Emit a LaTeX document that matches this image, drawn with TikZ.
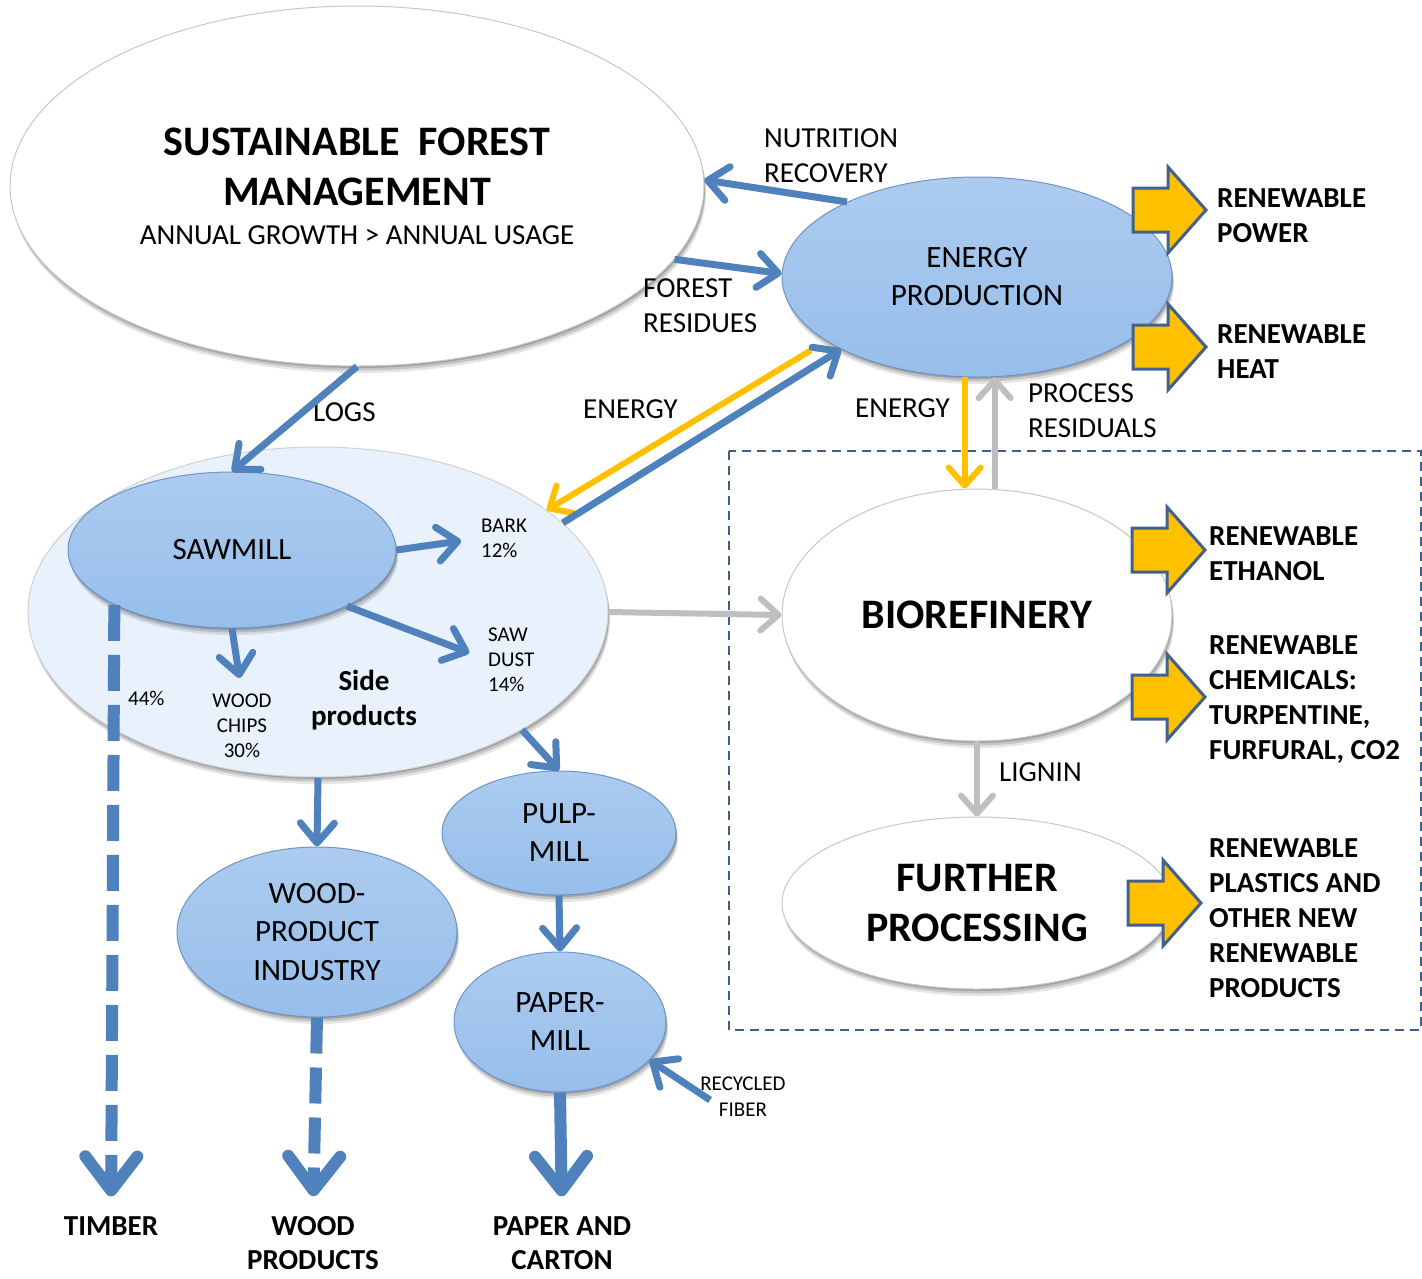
\documentclass[tikz,border=0pt]{standalone}
\usepackage{fontspec}
\setmainfont{Carlito}
\usetikzlibrary{shapes.geometric, arrows.meta, shadows}

\definecolor{millblue}{HTML}{97BEEB}
\definecolor{millrim}{HTML}{6F94C6}
\definecolor{flowblue}{HTML}{4F81BD}
\definecolor{flowgold}{HTML}{FFC000}
\definecolor{flowgray}{HTML}{BFBFBF}
\definecolor{sidefill}{HTML}{E8F1FC}
\definecolor{frameblue}{HTML}{3E5F8A}
\definecolor{outedge}{HTML}{41618F}

\newcommand{\fs}[2]{\fontsize{#1}{#2}\selectfont}

\tikzset{
  soft shadow/.style={
    drop shadow={shadow xshift=2pt, shadow yshift=-7pt, opacity=.10, fill=black},
    drop shadow={shadow xshift=1.5pt, shadow yshift=-4.5pt, opacity=.14, fill=black},
    drop shadow={shadow xshift=1pt, shadow yshift=-2pt, opacity=.18, fill=black}},
  outarrow/.pic={
    \draw[line width=3pt, draw=outedge, fill=flowgold]
      (0,-22) -- (35,-22) -- (35,-43) -- (73,0) -- (35,43) -- (35,22) -- (0,22) -- cycle;
  },
}

\begin{document}
\begin{tikzpicture}[
    x=1pt, y=-1pt,
    every node/.style={inner sep=0pt},
    whiteblob/.style={ellipse, fill=white, draw=black!22, line width=1pt, soft shadow, align=center},
    blueblob/.style={ellipse, top color=millblue!80!white, bottom color=millblue, draw=millrim,
      line width=1pt, soft shadow, font=\fs{31}{38}, align=center},
    lbl/.style={font=\fs{29}{35}, align=left, anchor=west},
    smalllbl/.style={font=\fs{21}{25}, align=left, anchor=west},
    outlbl/.style={font=\bfseries\fs{29}{35}, align=left, anchor=west},
    endlbl/.style={font=\bfseries\fs{29}{34}, align=center},
    flow/.style={draw=flowblue, line width=7pt, -{Straight Barb[length=20pt, width=34pt, round]}},
    goldflow/.style={draw=flowgold, line width=6pt, -{Straight Barb[length=18pt, width=32pt, round]}},
    grayflow/.style={draw=flowgray, line width=6pt, -{Straight Barb[length=18pt, width=32pt, round]}},
    outflow/.style={draw=flowblue, line width=12pt, -{Straight Barb[length=34pt, width=52pt, round]}},
    outdash/.style={outflow, dash pattern=on 36pt off 14pt},
  ]
\useasboundingbox (0,0) rectangle (1422,1278);

% biorefinery frame
\draw[frameblue, line width=2pt, dash pattern=on 9pt off 6pt] (729,451) rectangle (1421,1030);

% main blobs
\node[whiteblob, minimum width=694pt, minimum height=360pt, font=\bfseries\fs{42}{50}] (sfm) at (357,186)
  {SUSTAINABLE\ \ FOREST\\MANAGEMENT\\[-11pt]\mdseries\fs{29}{44}ANNUAL GROWTH > ANNUAL USAGE};
\node[blueblob, minimum width=390pt, minimum height=200pt] (energy) at (977,277) {ENERGY\\PRODUCTION};
\node[ellipse, fill=sidefill, draw=black!18, line width=1pt, soft shadow,
      minimum width=580pt, minimum height=330pt] (side) at (318,612) {};
\node[blueblob, minimum width=328pt, minimum height=156pt] (sawmill) at (232,550) {SAWMILL};
\node[whiteblob, minimum width=390pt, minimum height=252pt, font=\bfseries\fs{42}{50}] (bio) at (977,615) {BIOREFINERY};
\node[whiteblob, minimum width=390pt, minimum height=172pt, font=\bfseries\fs{42}{50}] (further) at (977,903) {FURTHER\\PROCESSING};
\node[blueblob, minimum width=234pt, minimum height=124pt] (pulp) at (559,833) {PULP-\\MILL};
\node[blueblob, minimum width=212pt, minimum height=140pt] (paper) at (560,1022) {PAPER-\\MILL};
\node[blueblob, minimum width=280pt, minimum height=170pt, font=\fs{31}{38.5}] (woodind) at (317,932) {WOOD-\\PRODUCT\\INDUSTRY};

% labels
\node[lbl] (nutr) at (764,156) {NUTRITION\\RECOVERY};
\node[lbl] (resid) at (643,306) {FOREST\\RESIDUES};
\node[lbl] (logs) at (313,412) {LOGS};
\node[lbl] (en1) at (583,409) {ENERGY};
\node[lbl] (en2) at (855,408) {ENERGY};
\node[lbl] (procres) at (1028,411) {PROCESS\\RESIDUALS};
\node[lbl] (lignin) at (999,772) {LIGNIN};
\node[smalllbl] (bark) at (481,538) {BARK\\12\%};
\node[smalllbl] (dust) at (488,660) {SAW\\DUST\\14\%};
\node[smalllbl] (pct) at (128,698) {44\%};
\node[smalllbl, anchor=center, align=center] (chips) at (242,726) {WOOD\\CHIPS\\30\%};
\node[font=\bfseries\fs{29}{35}, align=center] (sidelbl) at (364,700) {Side\\products};
\node[smalllbl, anchor=center, align=center, font=\fs{21}{26}] (recyc) at (743,1097) {RECYCLED\\FIBER};

% end products
\node[endlbl] (timber) at (111,1226) {TIMBER};
\node[endlbl] (woodprod) at (313,1243) {WOOD\\PRODUCTS};
\node[endlbl] (carton) at (562,1243) {PAPER AND\\CARTON};

% renewable outputs
\node[outlbl] (power) at (1217,216) {RENEWABLE\\POWER};
\node[outlbl] (heat) at (1217,352) {RENEWABLE\\HEAT};
\node[outlbl] (ethanol) at (1209,554) {RENEWABLE\\ETHANOL};
\node[outlbl] (chem) at (1209,700) {RENEWABLE\\CHEMICALS:\\TURPENTINE,\\FURFURAL, CO2};
\node[outlbl] (plast) at (1209,918) {RENEWABLE\\PLASTICS AND\\OTHER NEW\\RENEWABLE\\PRODUCTS};

\pic at (1133,210) {outarrow};
\pic at (1133,347) {outarrow};
\pic at (1132,550) {outarrow};
\pic at (1132,697) {outarrow};
\pic at (1128,903) {outarrow};

% flows
\draw[flow] (energy.150) -- (sfm.1);
\draw[flow] (sfm.-13.6) -- (energy.179);
\draw[flow] (sfm.south) -- (sawmill.north);
\draw[goldflow, shorten <=18pt] (energy.203) -- (side.24);
\draw[flow] (side.20) -- (energy.208);
\draw[goldflow] (energy.263) -- (energy.263 |- bio.north);
\draw[grayflow] (bio.north -| energy.280) -- (energy.280);
\draw[grayflow] (side.east) -- (bio.west);
\draw[grayflow] (bio.south) -- (further.north);

\draw[flow, shorten >=20pt] (sawmill.east) -- (bark.west);
\draw[flow, shorten >=20pt] (sawmill.-26) -- (dust.west);
\draw[flow, shorten >=16pt] (sawmill.south) -- (chips.north);
\draw[flow] (side.-30) -- (pulp.north);
\draw[flow] (side.south) -- (woodind.north);
\draw[flow] (pulp.south) -- (paper.north);
\draw[flow] ([xshift=10pt, yshift=-3pt]recyc.west) -- (paper.-23);

\draw[outdash, shorten >=20pt] (sawmill.205) -- (timber.north);
\draw[outdash, shorten >=20pt] (woodind.south) -- (woodprod.north);
\draw[outflow, shorten >=20pt] (paper.south) -- (carton.north);
\end{tikzpicture}
\end{document}
